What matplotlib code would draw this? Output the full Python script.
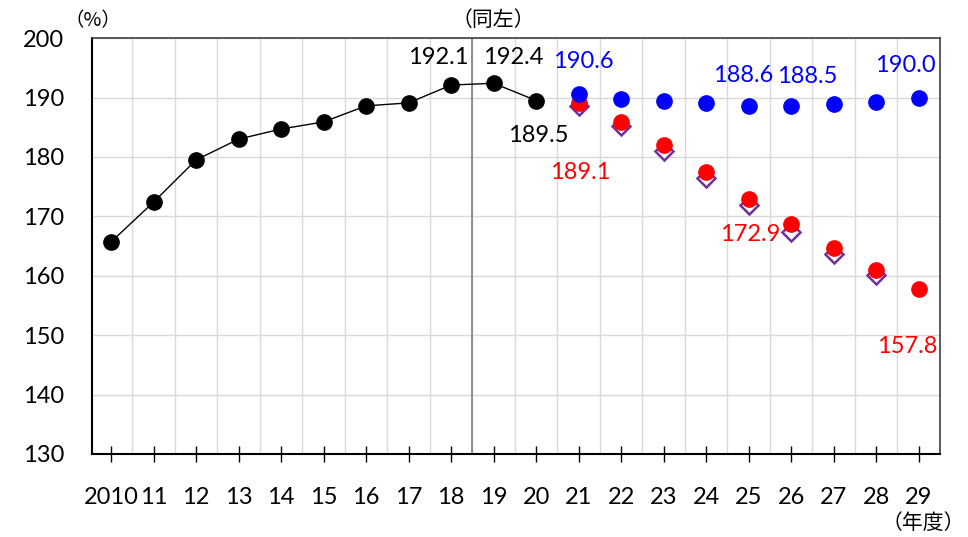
import matplotlib
matplotlib.use("Agg")
import matplotlib.pyplot as plt
import numpy as np

plt.rcParams['font.family'] = ['Lato', 'Noto Sans CJK JP', 'DejaVu Sans']

# data
years = ['2010', '11', '12', '13', '14', '15', '16', '17', '18', '19',
         '20', '21', '22', '23', '24', '25', '26', '27', '28', '29']
actual = [165.7, 172.4, 179.5, 183.0, 184.7, 185.9, 188.6, 189.1, 192.1, 192.4, 189.5]
proj_blue = [190.6, 189.8, 189.4, 189.1, 188.6, 188.5, 188.9, 189.3, 190.0]
proj_red = [189.1, 185.9, 182.0, 177.5, 172.9, 168.7, 164.7, 161.0, 157.8]
proj_purple = [188.5, 185.2, 181.0, 176.5, 171.9, 167.4, 163.7, 160.1]

# labels: (series index, offset in pixels)
labels_black = [(8, (-13, 28)), (9, (20, 26)), (10, (2, -35))]
labels_blue = [(0, (5, 32)), (4, (-5, 30)), (5, (16, 30)), (8, (-13, 32))]
labels_red = [(0, (2, -70)), (4, (2, -35)), (8, (-11, -58))]

fig = plt.figure(figsize=(9.68, 5.37), dpi=100)
ax = fig.add_axes([0.095, 0.1546, 0.876, 0.7744])

x_act = np.arange(len(actual))
x_proj = np.arange(len(actual), len(years))

ax.plot(x_proj[:len(proj_purple)], proj_purple, linestyle='none', marker='D',
        markersize=9, markerfacecolor='white', markeredgecolor='#7030A0',
        markeredgewidth=1.8, zorder=3)
ax.plot(x_proj, proj_red, linestyle='none', marker='o', markersize=11,
        color='#FF0000', zorder=4)
ax.plot(x_proj, proj_blue, linestyle='none', marker='o', markersize=11,
        color='#0000FF', zorder=5)
ax.plot(x_act, actual, color='black', linewidth=1, marker='o', markersize=11, zorder=5)

fs = 17
for i, off in labels_black:
    ax.annotate(f'{actual[i]:.1f}', (x_act[i], actual[i]), xytext=off,
                textcoords='offset pixels', ha='center', va='center',
                fontsize=fs, color='black')
for i, off in labels_blue:
    ax.annotate(f'{proj_blue[i]:.1f}', (x_proj[i], proj_blue[i]), xytext=off,
                textcoords='offset pixels', ha='center', va='center',
                fontsize=fs, color='#0000FF')
for i, off in labels_red:
    ax.annotate(f'{proj_red[i]:.1f}', (x_proj[i], proj_red[i]), xytext=off,
                textcoords='offset pixels', ha='center', va='center',
                fontsize=fs, color='#FF0000')

ax.set_xlim(-0.45, len(years) - 0.5)
ax.set_ylim(130, 200)
ax.set_yticks(np.arange(130, 201, 10))
ax.set_xticks(np.arange(len(years)))
ax.set_xticklabels(years)
ax.set_xticks(np.arange(len(years)) + 0.5, minor=True)
ax.grid(True, which='minor', axis='x', color='#d9d9d9', linewidth=1)
ax.grid(True, which='major', axis='y', color='#d9d9d9', linewidth=1)
ax.set_axisbelow(True)
ax.axvline(8.5, color='#808080', linewidth=1.2, zorder=2)

ax.tick_params(axis='x', which='major', direction='inout', length=12, width=1,
               labelsize=fs, pad=18)
ax.tick_params(axis='x', which='minor', length=0)
ax.tick_params(axis='y', length=0, labelsize=fs, pad=20)

for side in ['left', 'bottom']:
    ax.spines[side].set_color('black')
    ax.spines[side].set_linewidth(1.5)
for side in ['top', 'right']:
    ax.spines[side].set_color('#404040')
    ax.spines[side].set_linewidth(1.2)

cjk = ['Noto Sans CJK JP', 'DejaVu Sans']
fig.text(93 / 968, 1 - 21 / 537, '（%）', ha='center', va='center', fontsize=14, family=cjk)
fig.text(493 / 968, 1 - 20 / 537, '（同左）', ha='center', va='center', fontsize=15, family=cjk)
fig.text(965 / 968, 1 - 523 / 537, '（年度）', ha='right', va='center', fontsize=15, family=cjk)

fig.savefig('out.png', dpi=100)
